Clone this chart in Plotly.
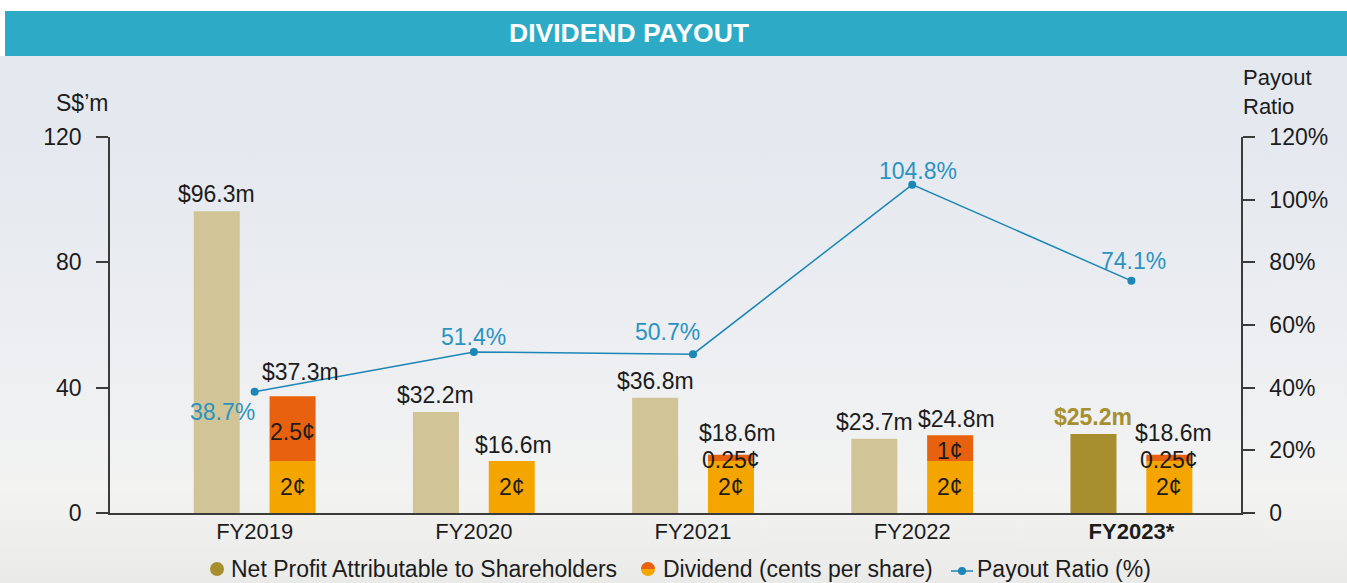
import base64
import plotly.graph_objects as go

# ---------------- data ----------------
categories = ["FY2019", "FY2020", "FY2021", "FY2022", "FY2023*"]
tick_labels = ["FY2019", "FY2020", "FY2021", "FY2022", "<b>FY2023*</b>"]
highlight = "FY2023*"
net_profit = [96.3, 32.2, 36.8, 23.7, 25.2]
net_profit_labels = ["$96.3m", "$32.2m", "$36.8m", "$23.7m", "$25.2m"]
dividend_base = [16.6, 16.6, 16.6, 16.6, 16.6]          # 2 cent portion (S$m)
dividend_extra = [20.7, 0.0, 2.0, 8.2, 2.0]              # additional cents portion (S$m)
dividend_total_labels = ["$37.3m", "$16.6m", "$18.6m", "$24.8m", "$18.6m"]
base_cents = ["2¢", "2¢", "2¢", "2¢", "2¢"]
extra_cents = ["2.5¢", "", "0.25¢", "1¢", "0.25¢"]
payout_ratio = [38.7, 51.4, 50.7, 104.8, 74.1]
left_ticks = [0, 40, 80, 120]
right_ticks = [0, 20, 40, 60, 80, 100, 120]
right_tick_text = ["0", "20%", "40%", "60%", "80%", "100%", "120%"]

# ---------------- style ----------------
FONT = "Liberation Sans, Arial, Helvetica, sans-serif"
FS = 23
TXT = "#1c1c1c"
BEIGE = "#D1C597"
OLIVE = "#A78F2F"
ORANGE = "#E8610E"
YELLOW = "#F5A500"
LINE = "#1C86B6"
LBL = "#2B93C2"
AXIS = "#3b3b3b"
TEAL = "#2DABC6"

W, H = 1347, 583
L, R, T, B = 110, 1241, 137, 513


def px(x):
    return (x - L) / (R - L)


def py(y):
    return (B - y) / (B - T)


BAR_W = 0.21
NET_OFF = -0.278
DIV_OFF = 0.068

fig = go.Figure()

fig.add_trace(go.Bar(
    x=categories, y=net_profit, width=BAR_W, offset=NET_OFF,
    marker=dict(color=[OLIVE if c == highlight else BEIGE for c in categories], line_width=0),
    name="Net Profit Attributable to Shareholders", showlegend=False, hoverinfo="skip"))
fig.add_trace(go.Bar(
    x=categories, y=dividend_base, width=BAR_W, offset=DIV_OFF,
    marker=dict(color=YELLOW, line_width=0), name="Dividend", showlegend=False, hoverinfo="skip"))
fig.add_trace(go.Bar(
    x=categories, y=dividend_extra, base=dividend_base, width=BAR_W, offset=DIV_OFF,
    marker=dict(color=ORANGE, line_width=0), name="Dividend extra", showlegend=False, hoverinfo="skip"))
fig.add_trace(go.Scatter(
    x=categories, y=payout_ratio, yaxis="y2", mode="lines+markers",
    line=dict(color=LINE, width=1.5), marker=dict(color=LINE, size=8),
    name="Payout Ratio (%)", showlegend=False, hoverinfo="skip"))

ann = []
# net profit labels
for c, v, t in zip(categories, net_profit, net_profit_labels):
    hl = c == highlight
    ann.append(dict(x=c, y=v, xref="x", yref="y", text=f"<b>{t}</b>" if hl else t,
                    showarrow=False, xshift=-38, yshift=17, yanchor="middle",
                    font=dict(size=FS, color=OLIVE if hl else TXT)))
# dividend total labels
div_xshift = [8, 2, 6, 6, 4]
div_yshift = [24, 16, 22, 16, 22]
for c, b, e, t, dx, dy in zip(categories, dividend_base, dividend_extra, dividend_total_labels, div_xshift, div_yshift):
    ann.append(dict(x=c, y=b + e, xref="x", yref="y", text=t, showarrow=False,
                    xshift=38 + dx, yshift=dy, yanchor="middle", font=dict(size=FS, color=TXT)))
# segment labels
for c, b, e, bt, et in zip(categories, dividend_base, dividend_extra, base_cents, extra_cents):
    ann.append(dict(x=c, y=b / 2, xref="x", yref="y", text=bt, showarrow=False,
                    xshift=38, yanchor="middle", font=dict(size=FS, color=TXT)))
    if et:
        ann.append(dict(x=c, y=b + e / 2, xref="x", yref="y", text=et, showarrow=False,
                        xshift=38, yshift=-3 if e > 5 else -2, yanchor="middle",
                        font=dict(size=FS, color=TXT)))
# payout labels
pay_shift = [(-32, -20), (0, 15), (-26, 22), (6, 14), (2, 20)]
for c, v, (dx, dy) in zip(categories, payout_ratio, pay_shift):
    ann.append(dict(x=c, y=v, xref="x", yref="y2", text=f"{v}%", showarrow=False,
                    xshift=dx, yshift=dy, yanchor="middle", font=dict(size=FS, color=LBL)))

# axis titles
ann.append(dict(x=px(82), y=py(103), xref="paper", yref="paper", text="S$’m", showarrow=False,
                xanchor="center", yanchor="middle", font=dict(size=FS, color=TXT)))
ann.append(dict(x=px(1241), y=py(92), xref="paper", yref="paper", text="Payout<br>Ratio",
                showarrow=False, xanchor="left", yanchor="middle", align="left",
                font=dict(size=FS - 1, color=TXT)))
# title
ann.append(dict(x=px(629), y=py(33.5), xref="paper", yref="paper", text="<b>DIVIDEND PAYOUT</b>",
                showarrow=False, xanchor="center", yanchor="middle",
                font=dict(size=26.5, color="white")))
# legend text
leg_y = py(569)
for x0, t in [(229, "Net Profit Attributable to Shareholders"),
              (661, "Dividend (cents per share)"),
              (975, "Payout Ratio (%)")]:
    ann.append(dict(x=px(x0), y=leg_y, xref="paper", yref="paper", text=t, showarrow=False,
                    xanchor="left", yanchor="middle", font=dict(size=FS, color=TXT)))

shapes = []
# title bar
shapes.append(dict(type="rect", xref="paper", yref="paper", x0=px(5), x1=px(W), y0=py(56), y1=py(11),
                   fillcolor=TEAL, line_width=0, layer="below"))
# legend icons
r = 7
k = 0.5523 * r
shapes.append(dict(type="circle", xref="paper", yref="paper", xsizemode="pixel", ysizemode="pixel",
                   xanchor=px(217), yanchor=leg_y, x0=-r, x1=r, y0=-r, y1=r,
                   fillcolor=OLIVE, line_width=0))
top_half = f"M {-r},0 C {-r},{k} {-k},{r} 0,{r} C {k},{r} {r},{k} {r},0 Z"
bot_half = f"M {-r},0 C {-r},{-k} {-k},{-r} 0,{-r} C {k},{-r} {r},{-k} {r},0 Z"
shapes.append(dict(type="path", xref="paper", yref="paper", xsizemode="pixel", ysizemode="pixel",
                   xanchor=px(648), yanchor=leg_y, path=top_half, fillcolor=ORANGE, line_width=0))
shapes.append(dict(type="path", xref="paper", yref="paper", xsizemode="pixel", ysizemode="pixel",
                   xanchor=px(648), yanchor=leg_y, path=bot_half, fillcolor=YELLOW, line_width=0))
shapes.append(dict(type="line", xref="paper", yref="paper", x0=px(951), x1=px(973), y0=py(571), y1=py(571),
                   line=dict(color=LINE, width=1.5)))
shapes.append(dict(type="circle", xref="paper", yref="paper", xsizemode="pixel", ysizemode="pixel",
                   xanchor=px(962), yanchor=py(571), x0=-4, x1=4, y0=-4, y1=4,
                   fillcolor=LINE, line_width=0))

# background sky-like gradient
svg = (f"<svg xmlns='http://www.w3.org/2000/svg' width='{W}' height='{H}' viewBox='0 0 {W} {H}' "
       "preserveAspectRatio='none'><defs><linearGradient id='g' x1='0' y1='0' x2='0' y2='1'>"
       "<stop offset='0' stop-color='#E3E8EF'/><stop offset='0.35' stop-color='#E8EBF0'/>"
       "<stop offset='0.65' stop-color='#EFF0F2'/><stop offset='0.82' stop-color='#F3F3F2'/>"
       "<stop offset='1' stop-color='#EAEAE8'/></linearGradient></defs>"
       f"<rect width='{W}' height='{H}' fill='url(#g)'/></svg>")
src = "data:image/svg+xml;base64," + base64.b64encode(svg.encode()).decode()

fig.update_layout(
    width=W, height=H, autosize=False,
    margin=dict(l=L, r=W - R, t=T, b=H - B, pad=0),
    paper_bgcolor="white", plot_bgcolor="rgba(0,0,0,0)",
    font=dict(family=FONT, size=FS, color=TXT),
    barmode="overlay", showlegend=False,
    annotations=ann, shapes=shapes,
    images=[dict(source=src, xref="paper", yref="paper", x=px(0), y=py(56),
                 sizex=px(W) - px(0), sizey=py(56) - py(H), xanchor="left", yanchor="top",
                 sizing="stretch", layer="below")],
    xaxis=dict(type="category", categoryorder="array", categoryarray=categories,
               range=[-0.66, 4.5], tickvals=categories, ticktext=tick_labels,
               showline=True, linecolor=AXIS, linewidth=1.5, ticks="", showgrid=False,
               zeroline=False, tickfont=dict(size=FS - 1, color=TXT), ticklabelstandoff=-2,
               fixedrange=True),
    yaxis=dict(range=[0, 120], tickvals=left_ticks, ticks="outside", ticklen=12, tickwidth=1.5,
               tickcolor=AXIS, showline=True, linecolor=AXIS, linewidth=1.5, showgrid=False,
               zeroline=False, tickfont=dict(size=FS, color=TXT), ticklabelstandoff=10),
    yaxis2=dict(overlaying="y", side="right", range=[0, 120], tickvals=right_ticks,
                ticktext=right_tick_text, ticks="outside", ticklen=12, tickwidth=1.5,
                tickcolor=AXIS, showline=True, linecolor=AXIS, linewidth=1.5, showgrid=False,
                zeroline=False, tickfont=dict(size=FS, color=TXT), ticklabelstandoff=10),
)

fig.write_html("out.html", config={"displayModeBar": False},
               post_script="document.body.style.margin='0';document.body.style.padding='0';"
                           "document.documentElement.style.overflow='hidden';")
